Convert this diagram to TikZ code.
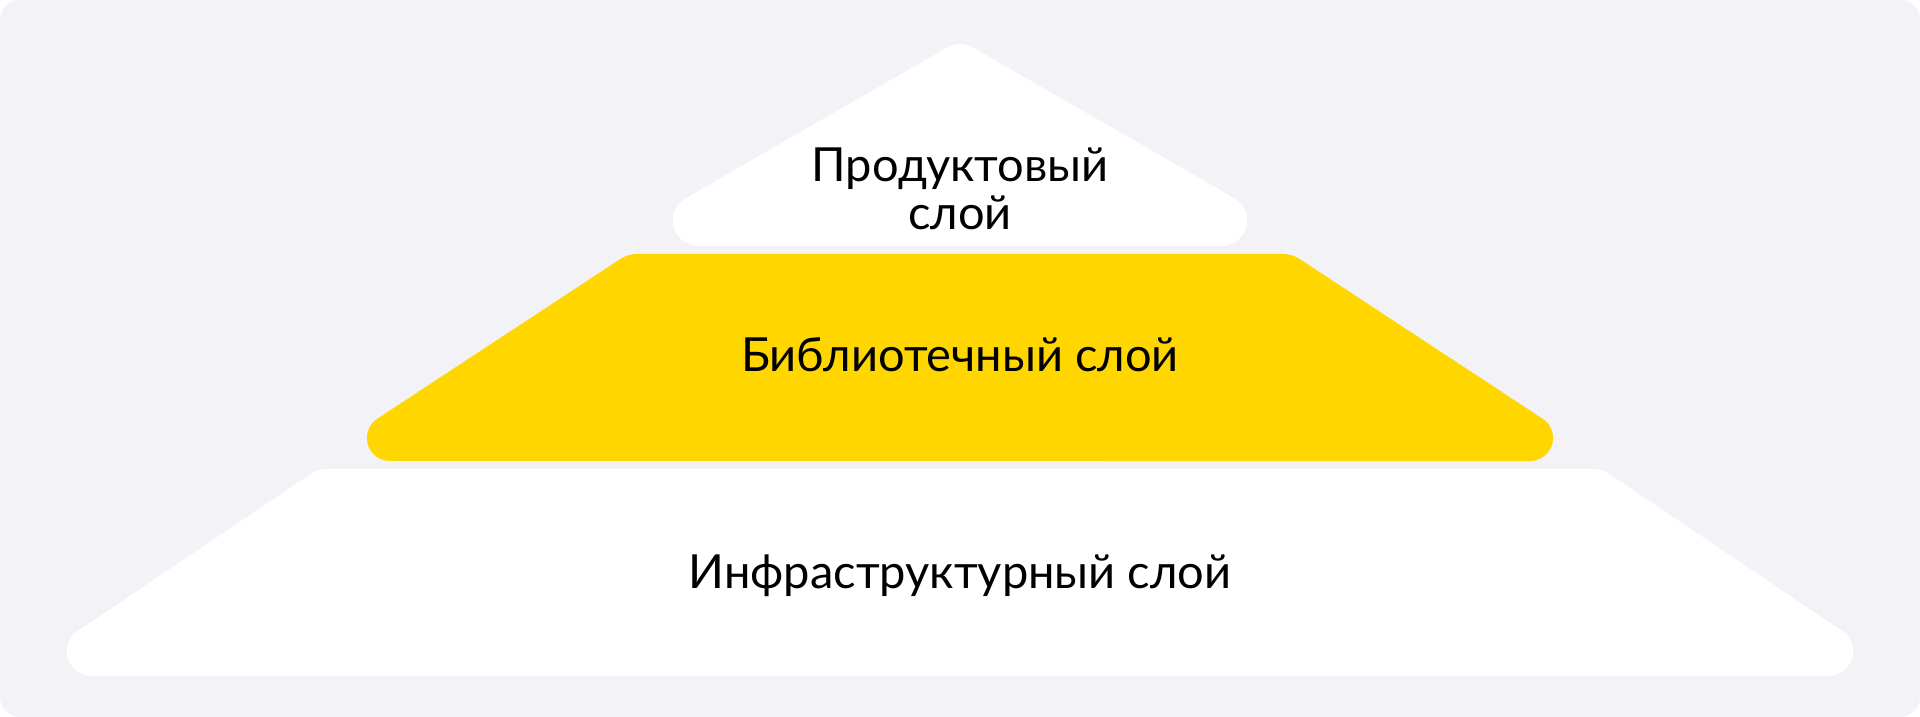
\documentclass[tikz,border=0pt]{standalone}
\usepackage{fontspec}
\setmainfont{Lato}
\definecolor{bggray}{HTML}{F2F2F7}
\definecolor{layeryellow}{HTML}{FFD600}
\begin{document}
\begin{tikzpicture}[x=1pt,y=1pt,
  lbl/.style={font=\fontsize{47}{48}\selectfont, text=black, inner sep=0pt, align=center, anchor=base}]
\useasboundingbox (0,0) rectangle (1920,717);
\fill[white] (0,0) rectangle (1920,717);
\fill[bggray, rounded corners=20pt] (0,0) rectangle (1920,717);
% bottom layer
\fill[white] (960,41) -- (91.5,41) arc[start angle=-90,end angle=-236.01,radius=24.6]
  -- (310.4,242.87) arc[start angle=123.99,end angle=90,radius=30]
  -- (1592.83,248) arc[start angle=90,end angle=56.01,radius=30]
  -- (1842.25,86.0) arc[start angle=56.01,end angle=-90,radius=24.6] -- cycle;
% middle layer
\fill[layeryellow] (960,256) -- (389.9,256) arc[start angle=-90,end angle=-236.69,radius=23]
  -- (620.5,458.07) arc[start angle=123.31,end angle=90,radius=30]
  -- (1283.02,463) arc[start angle=90,end angle=56.69,radius=30]
  -- (1542.7,298.2) arc[start angle=56.69,end angle=-90,radius=23] -- cycle;
% top layer
\fill[white] (960,471) -- (698.5,471) arc[start angle=-90,end angle=-240,radius=25.6]
  -- (947,669.5) arc[start angle=120,end angle=60,radius=26]
  -- (1234.3,518.8) arc[start angle=60,end angle=-90,radius=25.6] -- cycle;
\node[lbl] (prod) at (960,487) {Продуктовый\\слой};
\node[lbl] (lib) at (960,345) {Библиотечный слой};
\node[lbl] (infra) at (960,128) {Инфраструктурный слой};
\end{tikzpicture}
\end{document}
